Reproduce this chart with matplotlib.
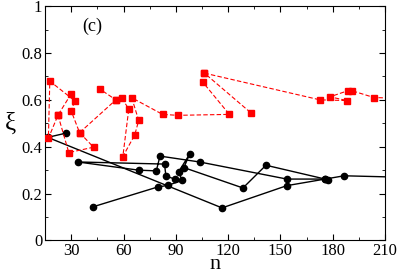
import matplotlib
matplotlib.use('Agg')
import matplotlib.pyplot as plt
from matplotlib.ticker import MultipleLocator

plt.rcParams['font.family'] = ['Liberation Serif', 'DejaVu Serif']

# red trajectories (dashed, squares)
red1_n = [30.0, 22.4, 16.9, 17.7, 32.0, 30.0, 34.8, 55.6, 46.6]
red1_xi = [0.626, 0.535, 0.436, 0.680, 0.596, 0.552, 0.460, 0.600, 0.645]

red2_n = [22.4, 28.6, 42.8, 34.8]
red2_xi = [0.535, 0.375, 0.398, 0.460]

red3_n = [55.6, 59.0, 63.0, 59.6, 66.4, 68.7, 64.7, 82.4, 91.0, 120.7, 105.3, 106.4, 133.3]
red3_xi = [0.600, 0.609, 0.560, 0.358, 0.450, 0.512, 0.609, 0.538, 0.534, 0.538, 0.677, 0.714, 0.543]

red4_n = [106.4, 172.7, 188.1, 178.4, 188.7, 191.0, 203.6, 220.0]
red4_xi = [0.714, 0.600, 0.597, 0.613, 0.639, 0.639, 0.610, 0.606]

# black trajectories (solid, circles)
blk1_n = [27.0, 16.5, 116.5, 153.7, 175.6, 186.5, 240.0]
blk1_xi = [0.458, 0.440, 0.139, 0.234, 0.262, 0.276, 0.266]

blk2_n = [89.5, 84.3, 83.5, 33.7, 68.7, 78.8, 80.9, 103.6, 153.7, 175.6]
blk2_xi = [0.261, 0.276, 0.326, 0.335, 0.300, 0.297, 0.360, 0.335, 0.262, 0.262]

blk3_n = [42.2, 79.5, 85.3, 93.6, 91.6, 97.9, 94.6, 128.5, 141.7, 177.4]
blk3_xi = [0.143, 0.228, 0.235, 0.256, 0.293, 0.368, 0.311, 0.224, 0.321, 0.259]

fig = plt.figure(figsize=(3.99, 2.78), dpi=100)
ax = fig.add_axes([0.113, 0.135, 0.852, 0.843])

for xs, ys in [(blk1_n, blk1_xi), (blk2_n, blk2_xi), (blk3_n, blk3_xi)]:
    ax.plot(xs, ys, '-', color='black', lw=1.0, marker='o', ms=4.5, zorder=2)

for xs, ys in [(red1_n, red1_xi), (red2_n, red2_xi), (red3_n, red3_xi), (red4_n, red4_xi)]:
    ax.plot(xs, ys, color='red', lw=0.8, ls=(0, (4, 2)), marker='s', ms=4.5, zorder=3)

ax.set_xlim(15, 210)
ax.set_ylim(0, 1)
ax.xaxis.set_minor_locator(MultipleLocator(15))
ax.yaxis.set_minor_locator(MultipleLocator(0.1))
ax.set_xticks([30, 60, 90, 120, 150, 180, 210])
ax.set_yticks([0, 0.2, 0.4, 0.6, 0.8, 1.0])
ax.set_yticklabels(['0', '0.2', '0.4', '0.6', '0.8', '1'])

ax.tick_params(which='both', direction='in', top=True, right=True, labelsize=12, pad=2)
ax.tick_params(which='major', length=4)
ax.tick_params(which='minor', length=2.5)

ax.set_xlabel('n', fontsize=16, labelpad=-3)
ax.set_ylabel('ξ', fontsize=18, rotation=0, labelpad=8, va='center')
ax.text(0.14, 0.915, '(c)', transform=ax.transAxes, fontsize=13, ha='center', va='center')

fig.savefig('out.png', dpi=100)
